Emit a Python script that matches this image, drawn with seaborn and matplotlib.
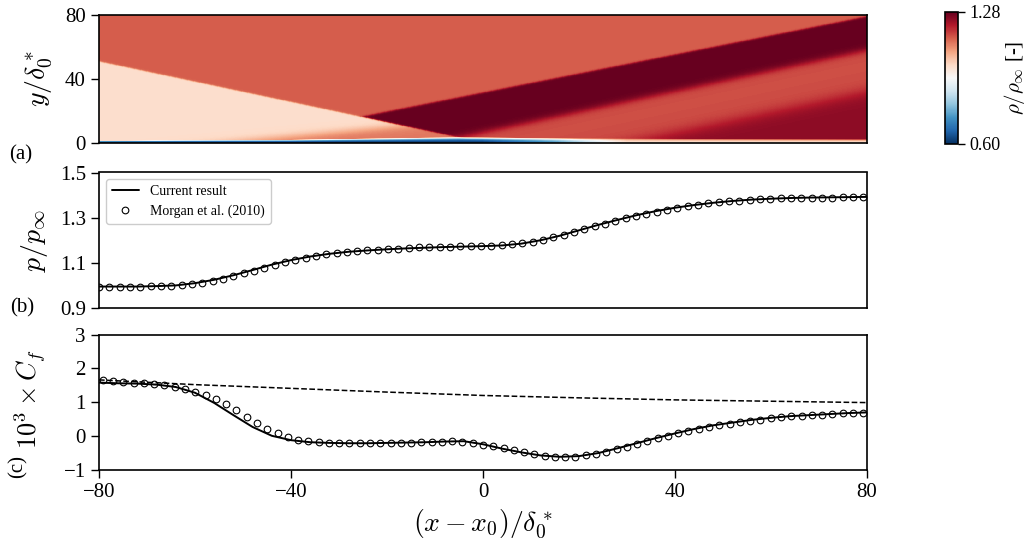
import numpy as np
import pandas as pd
import matplotlib
matplotlib.use("Agg")
import matplotlib.pyplot as plt
import seaborn as sns

# ---------------- data ----------------
# (a) density field: shock-structure description
inc_x, inc_y = [-80.0, -5.0], [51.0, 3.5]        # incident shock
rt_x, rt_y = [-25.3, 80.0], [16.4, 79.0]         # reflected shock (top of dark band)
rb_x, rb_y = [-5.0, 80.0], [3.5, 58.0]           # expansion (bottom of dark band)
sep_x, sep_y = [-55.0, -5.0], [0.0, 14.0]        # separation compression fan
rea_x, rea_y = [30.0, 80.0], [0.0, 32.0]         # reattachment compression
rho_inf, rho_sep, rho_post, rho_dark, rho_lower, rho_dark2 = 1.0, 1.12, 1.145, 1.28, 1.16, 1.245
bl_x = [-80.0, -40.0, -5.0, 20.0, 80.0]
bl_d = [1.5, 2.2, 3.8, 3.0, 2.5]
wall_x = [-80.0, 0.0, 15.0, 30.0, 80.0]
wall_rho = [0.62, 0.62, 0.75, 1.0, 1.0]
cbar_ticks = [0.60, 1.28]
cbar_ticklabels = ["0.60", "1.28"]

# (b) wall pressure
x_line = [-80, -76, -72, -68, -64, -60, -56, -52, -48, -44, -40, -36, -32, -28, -24, -20,
          -16, -12, -8, -4, 0, 4, 8, 12, 16, 20, 24, 28, 32, 36, 40, 44, 48, 52, 56, 60,
          64, 68, 72, 76, 80]
p_line = [0.995, 0.995, 0.995, 0.997, 1.000, 1.010, 1.025, 1.045, 1.068, 1.092, 1.112,
          1.128, 1.140, 1.149, 1.155, 1.160, 1.164, 1.167, 1.170, 1.172, 1.174, 1.177,
          1.185, 1.200, 1.220, 1.244, 1.268, 1.290, 1.311, 1.329, 1.344, 1.356, 1.366,
          1.374, 1.380, 1.384, 1.387, 1.389, 1.390, 1.391, 1.392]
x_exp_p = np.linspace(-80.0, 79.2, 75)
p_exp = [0.995, 0.995, 0.995, 0.995, 0.995, 0.996, 0.997, 0.998, 1.001, 1.006,
         1.012, 1.020, 1.030, 1.041, 1.053, 1.066, 1.079, 1.092, 1.103, 1.113,
         1.122, 1.130, 1.137, 1.142, 1.147, 1.151, 1.155, 1.158, 1.161, 1.163,
         1.166, 1.168, 1.169, 1.171, 1.172, 1.173, 1.174, 1.175, 1.176, 1.179,
         1.182, 1.187, 1.194, 1.203, 1.213, 1.224, 1.236, 1.248, 1.261, 1.273,
         1.285, 1.297, 1.308, 1.318, 1.327, 1.336, 1.344, 1.351, 1.357, 1.363,
         1.368, 1.372, 1.376, 1.379, 1.382, 1.384, 1.385, 1.386, 1.387, 1.388,
         1.389, 1.389, 1.390, 1.390, 1.391]

# (c) skin friction
cf_line = [1.58, 1.56, 1.55, 1.52, 1.45, 1.28, 0.98, 0.62, 0.27, 0.01, -0.12, -0.18,
           -0.20, -0.21, -0.21, -0.20, -0.19, -0.18, -0.16, -0.15, -0.24, -0.37, -0.48,
           -0.57, -0.61, -0.59, -0.50, -0.36, -0.21, -0.06, 0.08, 0.21, 0.32, 0.40, 0.48,
           0.54, 0.59, 0.62, 0.65, 0.68, 0.70]
x_exp_cf = np.linspace(-79.2, 79.2, 75)
cf_exp = [1.65, 1.63, 1.61, 1.58, 1.56, 1.53, 1.50, 1.45, 1.38, 1.31,
          1.22, 1.10, 0.95, 0.76, 0.57, 0.38, 0.20, 0.08, -0.03, -0.10,
          -0.15, -0.18, -0.20, -0.21, -0.21, -0.21, -0.21, -0.21, -0.20, -0.20,
          -0.19, -0.18, -0.17, -0.16, -0.15, -0.16, -0.20, -0.25, -0.30, -0.36,
          -0.41, -0.47, -0.53, -0.58, -0.61, -0.62, -0.61, -0.57, -0.52, -0.46,
          -0.39, -0.31, -0.23, -0.15, -0.07, 0.01, 0.08, 0.15, 0.21, 0.27,
          0.33, 0.37, 0.41, 0.46, 0.49, 0.53, 0.56, 0.58, 0.60, 0.62,
          0.63, 0.65, 0.67, 0.68, 0.69]
x_dash = [-80, -60, -40, -20, 0, 20, 40, 60, 80]
cf_dash = [1.66, 1.52, 1.41, 1.30, 1.20, 1.13, 1.07, 1.03, 0.99]

# ---------------- style ----------------
sns.set_theme(style="ticks")
plt.rcParams.update({
    "font.family": ["Liberation Serif", "DejaVu Serif"],
    "mathtext.fontset": "cm",
    "axes.edgecolor": "black",
    "axes.linewidth": 1.2,
    "axes.labelcolor": "black",
    "text.color": "black",
    "xtick.color": "black",
    "ytick.color": "black",
    "xtick.direction": "out",
    "ytick.direction": "out",
    "xtick.major.size": 6,
    "ytick.major.size": 6,
    "xtick.major.width": 1.0,
    "ytick.major.width": 1.0,
    "xtick.labelsize": 15,
    "ytick.labelsize": 15,
})

fig = plt.figure(figsize=(10.27, 5.47), dpi=100)
L, W = 99 / 1027, 768 / 1027
ax_a = fig.add_axes([L, 1 - 143 / 547, W, 128 / 547])
ax_b = fig.add_axes([L, 1 - 308 / 547, W, 135.5 / 547])
ax_c = fig.add_axes([L, 1 - 470 / 547, W, 135.5 / 547])
cax = fig.add_axes([945 / 1027, 1 - 144 / 547, 13 / 1027, 132 / 547])

# ---------------- (a) field ----------------
xg = np.linspace(-80, 80, 640)
yg = np.linspace(0, 80, 400)
X, Y = np.meshgrid(xg, yg)


def line_y(Xa, xs, ys):
    s = (ys[1] - ys[0]) / (xs[1] - xs[0])
    return ys[0] + s * (Xa - xs[0])


def sig(d, w):
    return 0.5 * (1 + np.tanh(d / w))


aboveI = sig(Y - line_y(X, inc_x, inc_y), 0.5)
belowRt = sig(line_y(X, rt_x, rt_y) - Y, 0.7)
aboveRb = sig(Y - line_y(X, rb_x, rb_y), 2.5)
sepC = sig(line_y(X, sep_x, sep_y) - Y, 3.0)
reaC = sig(line_y(X, rea_x, rea_y) - Y, 5.0)

rho = rho_inf + (1 - aboveI) * sepC * (rho_sep - rho_inf)
rho = rho + aboveI * (rho_post - rho_inf)
rho = rho + aboveI * belowRt * aboveRb * (rho_dark - rho_post)
rho = rho + aboveI * (1 - aboveRb) * (rho_lower - rho_post)
rho = rho + aboveI * (1 - aboveRb) * reaC * (rho_dark2 - rho_lower)
delta = np.interp(X, bl_x, bl_d)
rw = np.interp(X, wall_x, wall_rho)
f = np.clip(Y / delta, 0, 1) ** 3
rho = rw + (rho - rw) * f

mesh = ax_a.pcolormesh(xg, yg, rho, cmap="RdBu_r", vmin=0.6, vmax=1.28,
                       shading="auto", rasterized=True)
ax_a.set_xlim(-80, 80)
ax_a.set_ylim(0, 80)
ax_a.set_yticks([0, 40, 80])
ax_a.set_xticks([])
ax_a.set_ylabel(r"$y/\delta_0^*$", fontsize=20)
ax_a.yaxis.set_label_coords(-0.058, 0.5)

cb = fig.colorbar(mesh, cax=cax, ticks=cbar_ticks)
cb.ax.set_yticklabels(cbar_ticklabels)
cb.ax.tick_params(labelsize=13, length=5, width=1.0)
cb.outline.set_linewidth(1.2)
cb.set_label(r"$\rho/\rho_\infty$ [-]", fontsize=15)
cb.ax.yaxis.set_label_coords(4.4, 0.5)

# ---------------- (b) pressure ----------------
sns.lineplot(x=x_line, y=p_line, ax=ax_b, color="black", lw=1.4,
             label="Current result")
sns.lineplot(x=x_exp_p, y=p_exp, ax=ax_b, color="black", marker="o",
             linestyle="none", markerfacecolor="none", markeredgecolor="black",
             markersize=4.8, markeredgewidth=0.8, label="Morgan et al. (2010)")
ax_b.set_xlim(-80, 80)
ax_b.set_ylim(0.9, 1.5)
ax_b.set_yticks([0.9, 1.1, 1.3, 1.5])
ax_b.set_yticklabels(["0.9", "1.1", "1.3", "1.5"])
ax_b.set_xticks([])
ax_b.set_ylabel(r"$p/p_\infty$", fontsize=20)
ax_b.yaxis.set_label_coords(-0.064, 0.5)
ax_b.legend(loc="upper left", fontsize=10, frameon=True, fancybox=True,
            edgecolor="0.8", framealpha=1.0, handlelength=2.0, handletextpad=0.8)

# ---------------- (c) skin friction ----------------
sns.lineplot(x=x_line, y=cf_line, ax=ax_c, color="black", lw=1.4)
sns.lineplot(x=x_dash, y=cf_dash, ax=ax_c, color="black", lw=1.1, linestyle="--")
sns.lineplot(x=x_exp_cf, y=cf_exp, ax=ax_c, color="black", marker="o",
             linestyle="none", markerfacecolor="none", markeredgecolor="black",
             markersize=4.8, markeredgewidth=0.8)
ax_c.set_xlim(-80, 80)
ax_c.set_ylim(-1, 3)
ax_c.set_yticks([-1, 0, 1, 2, 3])
ax_c.set_xticks([-80, -40, 0, 40, 80])
ax_c.set_ylabel(r"$10^3\times C_f$", fontsize=19)
ax_c.yaxis.set_label_coords(-0.066, 0.52)
ax_c.set_xlabel(r"$(x-x_0)/\delta_0^*$", fontsize=20)

for ax in (ax_a, ax_b, ax_c):
    for s in ax.spines.values():
        s.set_visible(True)
        s.set_color("black")
        s.set_linewidth(1.2)

fig.text(21 / 1027, 1 - 155 / 547, "(a)", ha="center", va="center", fontsize=15)
fig.text(22 / 1027, 1 - 308 / 547, "(b)", ha="center", va="center", fontsize=15)
fig.text(18 / 1027, 1 - 467 / 547, "(c)", ha="center", va="center", fontsize=15,
         rotation=90)

fig.savefig("out.png", dpi=100)
